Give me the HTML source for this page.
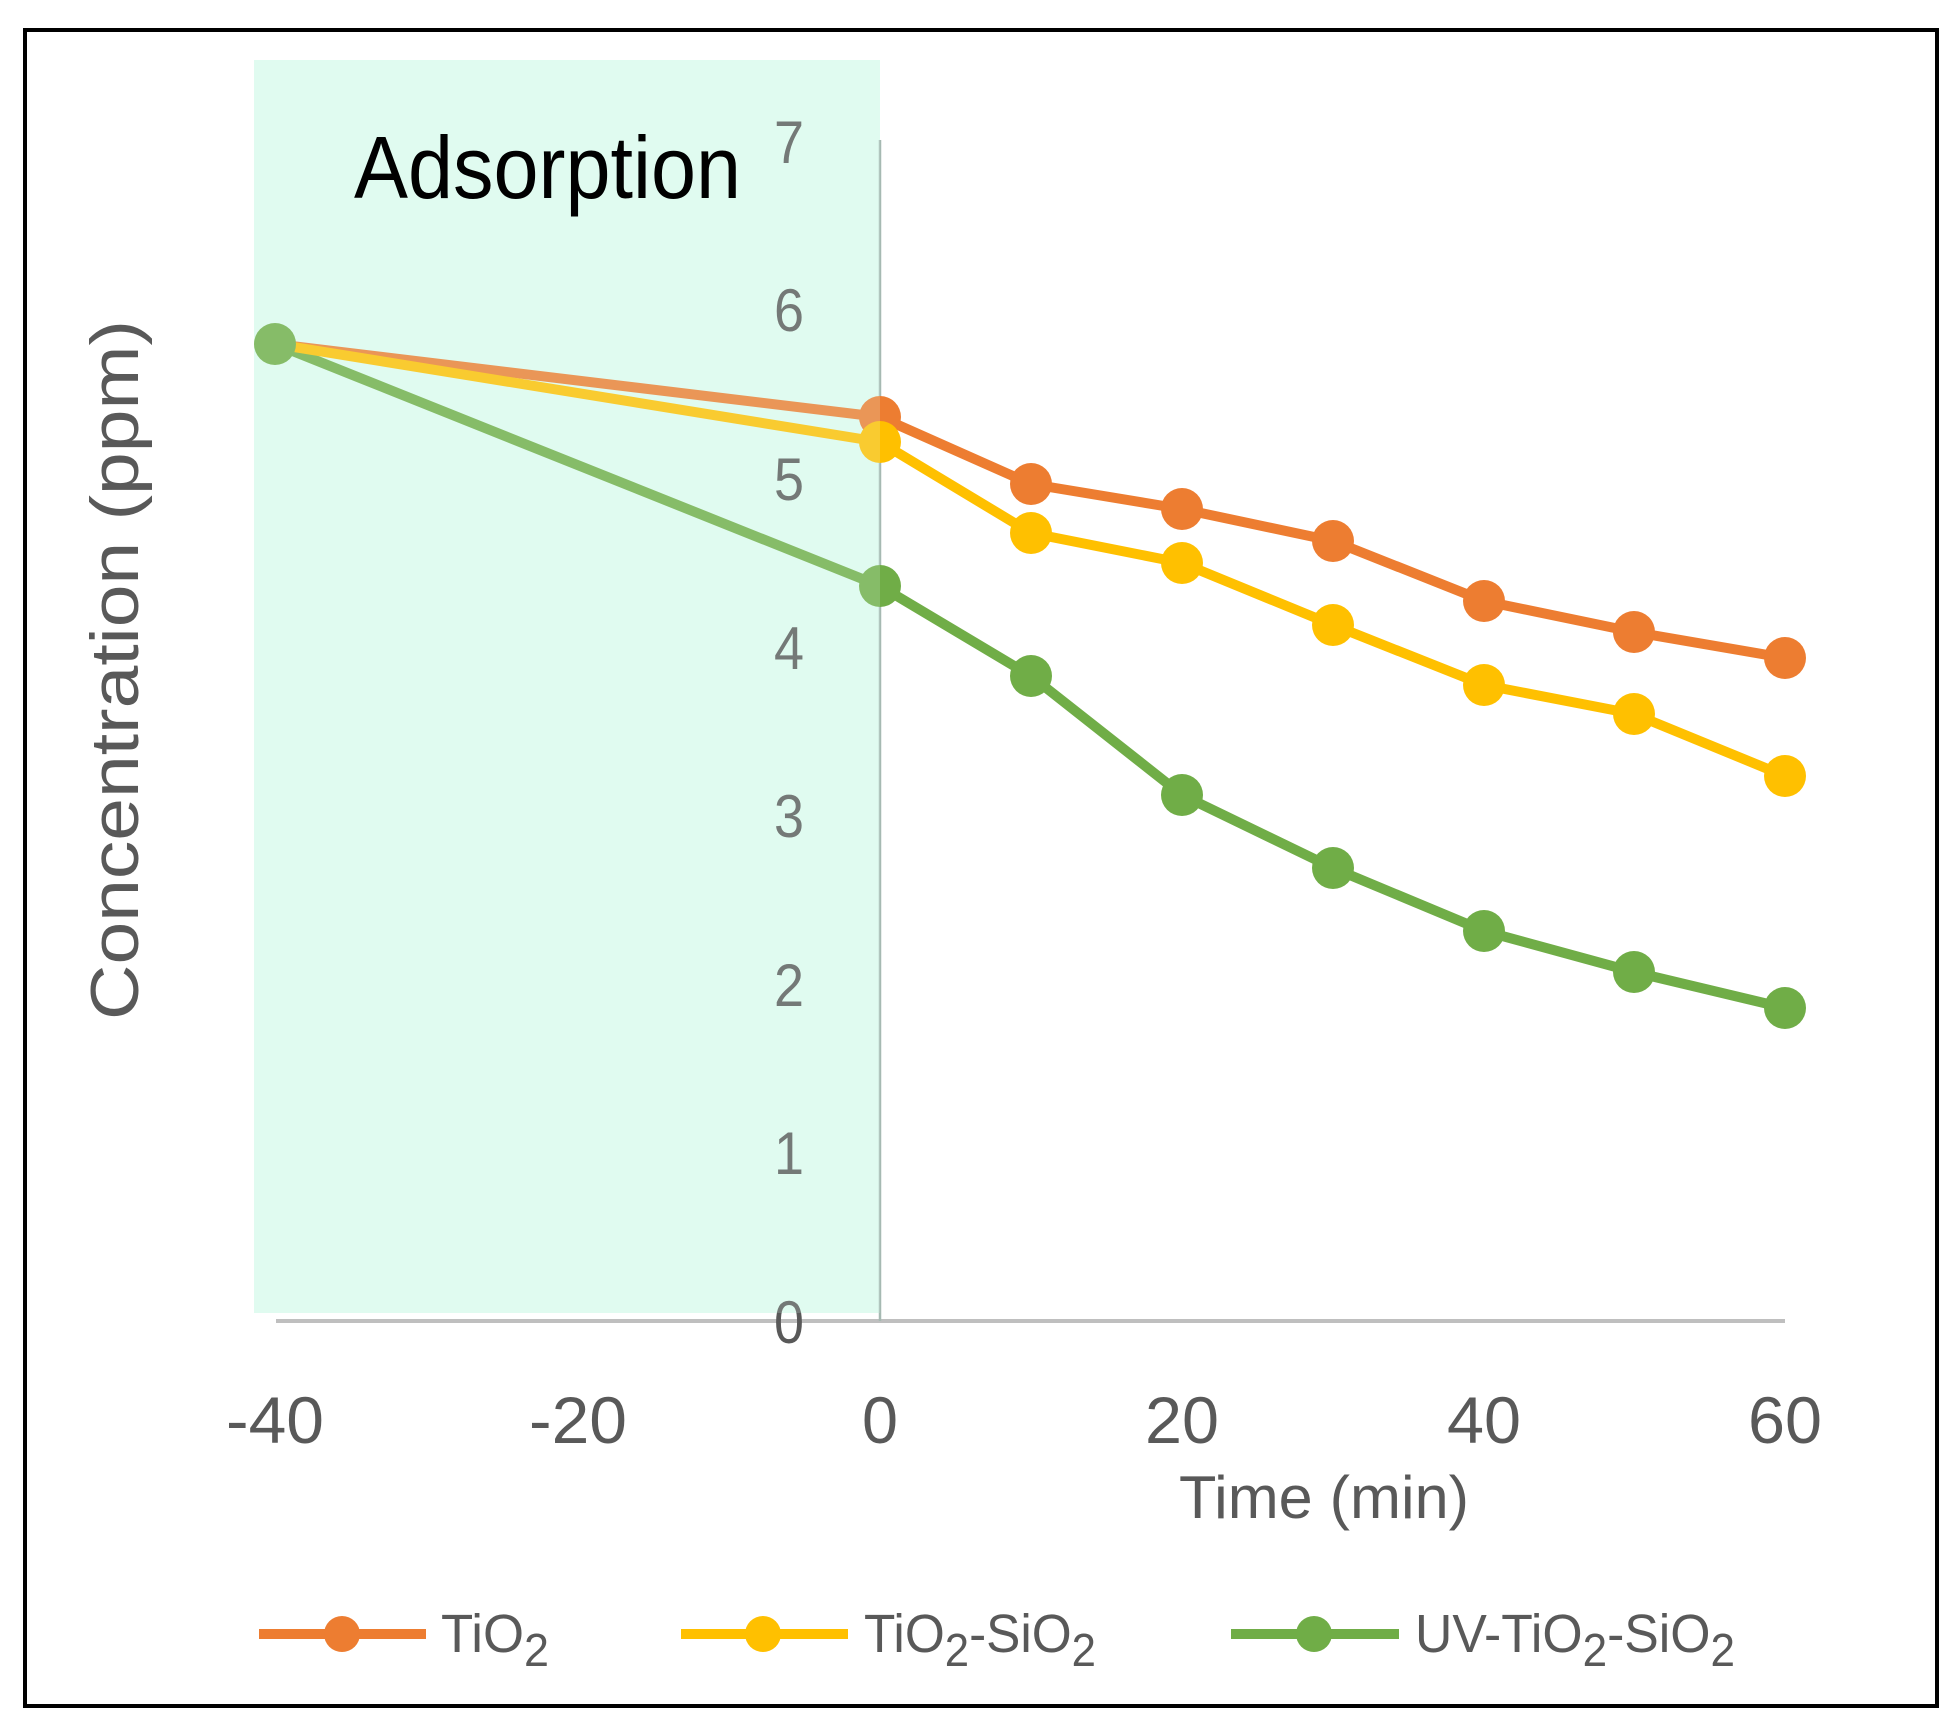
<!DOCTYPE html>
<html><head><style>
html,body{margin:0;padding:0;background:#fff;}
svg{display:block;}
text{font-family:"Liberation Sans",sans-serif;}
</style></head><body>
<svg width="1960" height="1733" viewBox="0 0 1960 1733" xmlns="http://www.w3.org/2000/svg">
<rect x="0" y="0" width="1960" height="1733" fill="#fff"/>
<rect x="25" y="30" width="1912" height="1676" fill="none" stroke="#000" stroke-width="4"/>
<rect x="254" y="60" width="626" height="1253" fill="#E0FCF0"/>
<line x1="276" y1="1321" x2="1785" y2="1321" stroke="#BFBFBF" stroke-width="4"/>
<line x1="880" y1="140" x2="880" y2="1321" stroke="#A6B9B2" stroke-width="2.5"/>
<g fill="#595959" font-size="60" text-anchor="middle">
<text x="789" y="1343" textLength="30" lengthAdjust="spacingAndGlyphs">0</text>
<text x="789" y="1174" textLength="30" lengthAdjust="spacingAndGlyphs">1</text>
<text x="789" y="1006" textLength="30" lengthAdjust="spacingAndGlyphs">2</text>
<text x="789" y="837" textLength="30" lengthAdjust="spacingAndGlyphs">3</text>
<text x="789" y="669" textLength="30" lengthAdjust="spacingAndGlyphs">4</text>
<text x="789" y="500" textLength="30" lengthAdjust="spacingAndGlyphs">5</text>
<text x="789" y="331" textLength="30" lengthAdjust="spacingAndGlyphs">6</text>
<text x="789" y="163" textLength="30" lengthAdjust="spacingAndGlyphs">7</text>
</g>
<g fill="none" stroke-width="10" stroke-linejoin="round">
<polyline stroke="#70AD47" points="275,344 880,586 1031,676 1182,795 1333,868 1484,931 1634,972 1785,1008"/>
<polyline stroke="#ED7D31" points="275,344 880,417 1031,484 1182,509 1333,541 1484,601 1634,632 1785,658"/>
<polyline stroke="#FFC000" points="275,344 880,442 1031,533 1182,563 1333,625 1484,685 1634,714 1785,776"/>
</g>
<g fill="#ED7D31">
<circle cx="880" cy="417" r="21"/><circle cx="1031" cy="484" r="21"/><circle cx="1182" cy="509" r="21"/><circle cx="1333" cy="541" r="21"/><circle cx="1484" cy="601" r="21"/><circle cx="1634" cy="632" r="21"/><circle cx="1785" cy="658" r="21"/>
</g>
<g fill="#FFC000">
<circle cx="880" cy="442" r="21"/><circle cx="1031" cy="533" r="21"/><circle cx="1182" cy="563" r="21"/><circle cx="1333" cy="625" r="21"/><circle cx="1484" cy="685" r="21"/><circle cx="1634" cy="714" r="21"/><circle cx="1785" cy="776" r="21"/>
</g>
<g fill="#70AD47">
<circle cx="275" cy="344" r="21"/>
<circle cx="880" cy="586" r="21"/><circle cx="1031" cy="676" r="21"/><circle cx="1182" cy="795" r="21"/><circle cx="1333" cy="868" r="21"/><circle cx="1484" cy="931" r="21"/><circle cx="1634" cy="972" r="21"/><circle cx="1785" cy="1008" r="21"/>
</g>
<rect x="254" y="60" width="626" height="1253" fill="#E0FCF0" opacity="0.2"/>
<text x="354" y="198" font-size="88" fill="#000" textLength="387" lengthAdjust="spacingAndGlyphs">Adsorption</text>
<g fill="#595959" font-size="66" text-anchor="middle">
<text x="275" y="1443" textLength="98" lengthAdjust="spacingAndGlyphs">-40</text>
<text x="578" y="1443" textLength="98" lengthAdjust="spacingAndGlyphs">-20</text>
<text x="880" y="1443" textLength="36" lengthAdjust="spacingAndGlyphs">0</text>
<text x="1182" y="1443" textLength="74" lengthAdjust="spacingAndGlyphs">20</text>
<text x="1484" y="1443" textLength="74" lengthAdjust="spacingAndGlyphs">40</text>
<text x="1785" y="1443" textLength="74" lengthAdjust="spacingAndGlyphs">60</text>
</g>
<text x="1324" y="1518" font-size="60" fill="#595959" text-anchor="middle" textLength="290" lengthAdjust="spacingAndGlyphs">Time (min)</text>
<text transform="translate(138,670) rotate(-90)" font-size="68" fill="#595959" text-anchor="middle" textLength="700" lengthAdjust="spacingAndGlyphs">Concentration (ppm)</text>
<g stroke-width="10">
<line x1="259" y1="1634" x2="426" y2="1634" stroke="#ED7D31"/>
<line x1="681" y1="1634" x2="848" y2="1634" stroke="#FFC000"/>
<line x1="1231" y1="1634" x2="1399" y2="1634" stroke="#70AD47"/>
</g>
<circle cx="342" cy="1634" r="18" fill="#ED7D31"/>
<circle cx="763" cy="1634" r="18" fill="#FFC000"/>
<circle cx="1314" cy="1634" r="18" fill="#70AD47"/>
<g fill="#595959" font-size="54">
<text x="441" y="1652" textLength="108" lengthAdjust="spacingAndGlyphs">TiO<tspan font-size="46" dy="14">2</tspan></text>
<text x="864" y="1652" textLength="232" lengthAdjust="spacingAndGlyphs">TiO<tspan font-size="46" dy="14">2</tspan><tspan dy="-14">-SiO</tspan><tspan font-size="46" dy="14">2</tspan></text>
<text x="1415" y="1652" textLength="320" lengthAdjust="spacingAndGlyphs">UV-TiO<tspan font-size="46" dy="14">2</tspan><tspan dy="-14">-SiO</tspan><tspan font-size="46" dy="14">2</tspan></text>
</g>
</svg>
</body></html>
